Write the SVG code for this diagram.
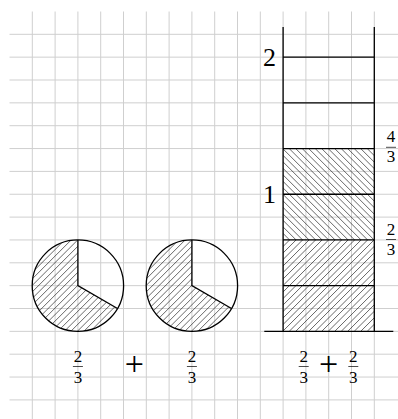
<svg xmlns="http://www.w3.org/2000/svg" xmlns:xlink="http://www.w3.org/1999/xlink" width="398" height="419" viewBox="0 0 398 419">
  <style>
    .grid { stroke: #cfcfcf; stroke-width: 1; fill: none; }
    .thick { stroke: #000; stroke-width: 1.3; fill: none; }
    .hatch { stroke: #000; stroke-width: 0.6; fill: none; }
    .num { font-family: "Liberation Serif", "Times New Roman", serif; font-size: 17px; text-anchor: middle; fill: #000; }
    .big { font-family: "Liberation Serif", "Times New Roman", serif; font-size: 26px; text-anchor: middle; fill: #000; }
    .plus { font-family: "Liberation Serif", "Times New Roman", serif; font-size: 34px; text-anchor: middle; fill: #000; }
    .fbar { stroke: #000; stroke-width: 0.7; }
  </style>
  <defs>
    <path id="hne" class="hatch" d="M-91.4,91.4l91.4-91.4m-84.9 91.4l91.4-91.4m-84.9 91.4l91.4-91.4m-84.9 91.4l91.4-91.4m-84.9 91.4l91.4-91.4m-84.9 91.4l91.4-91.4m-84.9 91.4l91.4-91.4m-84.9 91.4l91.4-91.4m-84.9 91.4l91.4-91.4m-84.9 91.4l91.4-91.4m-84.9 91.4l91.4-91.4m-84.9 91.4l91.4-91.4m-84.9 91.4l91.4-91.4m-84.9 91.4l91.4-91.4m-84.9 91.4l91.4-91.4m-84.9 91.4l91.4-91.4m-84.9 91.4l91.4-91.4m-84.9 91.4l91.4-91.4m-84.9 91.4l91.4-91.4m-84.9 91.4l91.4-91.4m-84.9 91.4l91.4-91.4m-84.9 91.4l91.4-91.4m-84.9 91.4l91.4-91.4m-84.9 91.4l91.4-91.4m-84.9 91.4l91.4-91.4m-84.9 91.4l91.4-91.4m-84.9 91.4l91.4-91.4m-84.9 91.4l91.4-91.4m-84.9 91.4l91.4-91.4"/>
    <path id="hnw" class="hatch" d="M-91.4,0l91.4,91.4m-84.9-91.4l91.4,91.4m-84.9-91.4l91.4,91.4m-84.9-91.4l91.4,91.4m-84.9-91.4l91.4,91.4m-84.9-91.4l91.4,91.4m-84.9-91.4l91.4,91.4m-84.9-91.4l91.4,91.4m-84.9-91.4l91.4,91.4m-84.9-91.4l91.4,91.4m-84.9-91.4l91.4,91.4m-84.9-91.4l91.4,91.4m-84.9-91.4l91.4,91.4m-84.9-91.4l91.4,91.4m-84.9-91.4l91.4,91.4m-84.9-91.4l91.4,91.4m-84.9-91.4l91.4,91.4m-84.9-91.4l91.4,91.4m-84.9-91.4l91.4,91.4m-84.9-91.4l91.4,91.4m-84.9-91.4l91.4,91.4m-84.9-91.4l91.4,91.4m-84.9-91.4l91.4,91.4m-84.9-91.4l91.4,91.4m-84.9-91.4l91.4,91.4m-84.9-91.4l91.4,91.4m-84.9-91.4l91.4,91.4m-84.9-91.4l91.4,91.4m-84.9-91.4l91.4,91.4"/>
    <clipPath id="c1"><path d="M77.9,285.65 L77.9,239.95 A45.7,45.7 0 1 0 117.48,308.5 Z"/></clipPath>
    <clipPath id="c2"><path d="M191.9,285.65 L191.9,239.95 A45.7,45.7 0 1 0 231.48,308.5 Z"/></clipPath>
    <clipPath id="cb1"><rect x="283.1" y="239.95" width="91.2" height="91.4"/></clipPath>
    <clipPath id="cb2"><rect x="283.1" y="148.55" width="91.2" height="91.4"/></clipPath>
  </defs>
  <rect width="398" height="419" fill="#fff"/>
  <g id="grid" class="grid">
    <path d="M32.3 11.5V419M55.1 11.5V419M77.9 11.5V419M100.7 11.5V419M123.5 11.5V419M146.3 11.5V419M169.1 11.5V419M191.9 11.5V419M214.7 11.5V419M237.5 11.5V419M260.3 11.5V419M283.1 11.5V419M305.9 11.5V419M328.7 11.5V419M351.5 11.5V419M374.3 11.5V419"/>
    <path d="M9.5 34.3H398M9.5 57.15H398M9.5 80H398M9.5 102.85H398M9.5 125.7H398M9.5 148.55H398M9.5 171.4H398M9.5 194.25H398M9.5 217.1H398M9.5 239.95H398M9.5 262.8H398M9.5 285.65H398M9.5 308.5H398M9.5 331.35H398M9.5 354.2H398M9.5 377.05H398M9.5 399.9H398"/>
  </g>
  <g id="circle1">
    <g clip-path="url(#c1)"><use xlink:href="#hne" x="32.2" y="239.95"/></g>
    <circle cx="77.9" cy="285.65" r="45.7" class="thick"/>
    <path d="M77.9,239.95 L77.9,285.65 L117.48,308.5" class="thick"/>
  </g>
  <g id="circle2">
    <g clip-path="url(#c2)"><use xlink:href="#hne" x="146.2" y="239.95"/></g>
    <circle cx="191.9" cy="285.65" r="45.7" class="thick"/>
    <path d="M191.9,239.95 L191.9,285.65 L231.48,308.5" class="thick"/>
  </g>
  <g id="bar">
    <g clip-path="url(#cb1)"><use xlink:href="#hne" x="283.1" y="239.95"/></g>
    <g clip-path="url(#cb2)"><use xlink:href="#hnw" x="283.1" y="148.55"/></g>
    <path d="M283.1 27V331.35M374.3 27V331.35M264.3 331.35H393.3M283.1 57.15H374.3M283.1 102.85H374.3M283.1 148.55H374.3M283.1 194.25H374.3M283.1 239.95H374.3M283.1 285.65H374.3" class="thick"/>
  </g>
  <g id="axis-labels">
    <text x="269.5" y="66" class="big">2</text>
    <text x="269.5" y="202.5" class="big">1</text>
    <text x="391" y="142" class="num">4</text>
    <line x1="386" y1="147.3" x2="396" y2="147.3" class="fbar"/>
    <text x="391" y="161.5" class="num">3</text>
    <text x="391" y="235.3" class="num">2</text>
    <line x1="386" y1="239.5" x2="396" y2="239.5" class="fbar"/>
    <text x="391" y="254.8" class="num">3</text>
  </g>
  <g id="sum-labels">
    <text x="77.9" y="362" class="num">2</text>
    <line x1="72.9" y1="366.5" x2="82.9" y2="366.5" class="fbar"/>
    <text x="77.9" y="382.8" class="num">3</text>
    <text x="134.3" y="374.6" class="plus">+</text>
    <text x="191.9" y="362" class="num">2</text>
    <line x1="186.9" y1="366.5" x2="196.9" y2="366.5" class="fbar"/>
    <text x="191.9" y="382.8" class="num">3</text>
    <text x="303.7" y="362" class="num">2</text>
    <line x1="298.7" y1="366.5" x2="308.7" y2="366.5" class="fbar"/>
    <text x="303.7" y="382.8" class="num">3</text>
    <text x="328.5" y="374.6" class="plus">+</text>
    <text x="353.3" y="362" class="num">2</text>
    <line x1="348.3" y1="366.5" x2="358.3" y2="366.5" class="fbar"/>
    <text x="353.3" y="382.8" class="num">3</text>
  </g>
</svg>
